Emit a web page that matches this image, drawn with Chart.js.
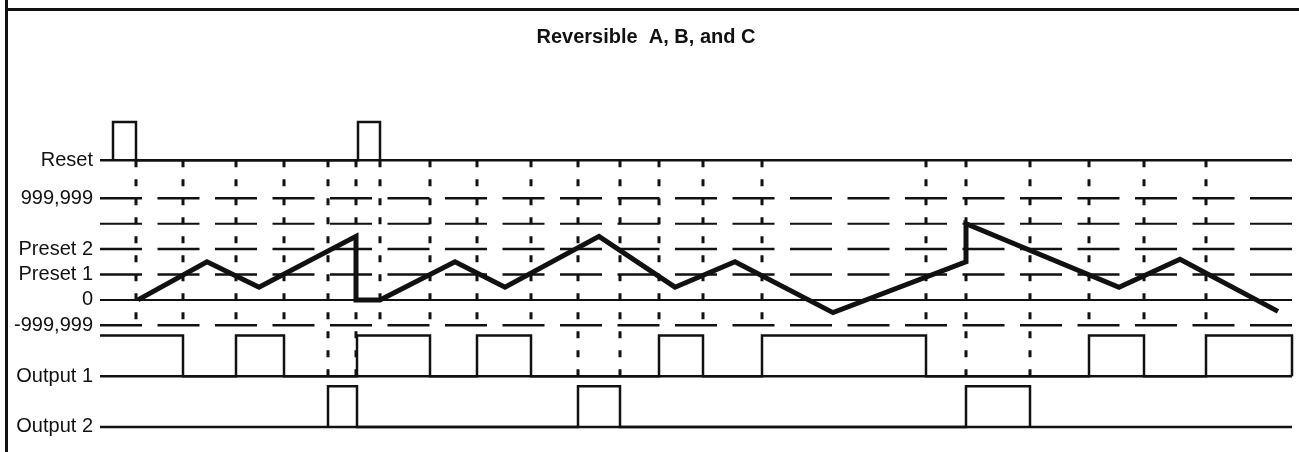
<!DOCTYPE html>
<html>
<head>
<meta charset="utf-8">
<script src="https://cdn.jsdelivr.net/npm/chart.js@4.4.1/dist/chart.umd.min.js"></script>
<style>
  body { margin: 0; background: #fff; }
  .wrap { position: relative; width: 1299px; height: 452px; }
  .top-rule { position: absolute; left: 5px; right: 0; top: 8px; height: 3px; background: #111; }
  .left-rule { position: absolute; left: 5px; top: 0; bottom: 0; width: 3px; background: #111; }
  canvas { position: absolute; left: 0; top: 0; }
</style>
</head>
<body>
<div class="wrap">
  <div class="top-rule"></div>
  <div class="left-rule"></div>
  <canvas id="chart" width="1299" height="452"></canvas>
</div>
<script>
// levels on the left side (counter levels + signal lanes)
const levelLabels = ['Reset', '999,999', 'Preset 2', 'Preset 1', '0', '-999,999', 'Output 1', 'Output 2'];
const levelValues = [5.5, 4, 2, 1, 0, -1, -3, -5];
const dashedLevels = [4, 3, 2, 1, -1];

// time span of the diagram
const tStart = 0;
const tEnd = 1192;

// signal lanes: low / high
const resetLane = [5.5, 7];
const out1Lane = [-3, -1.4];
const out2Lane = [-5, -3.4];

// pulses [on, off]
const resetPulses = [[13, 36], [258, 280]];
const out1Pulses = [[0, 83], [136, 184], [257, 330], [377, 431], [559, 603], [662, 826], [989, 1044], [1106, 1192]];
const out2Pulses = [[228, 257], [478, 520], [866, 930]];

// counter value vs time
const countTimes = [38, 107, 159, 256, 256, 280, 355, 405, 499, 575, 635, 733, 866, 866, 1019, 1080, 1178];
const countValues = [0, 1.5, 0.5, 2.5, 0, 0, 1.5, 0.5, 2.5, 0.5, 1.5, -0.5, 1.5, 3, 0.5, 1.6, -0.45];

// dashed event markers
const eventTimes = [36, 83, 136, 184, 228, 256, 280, 330, 377, 431, 478, 520, 559, 603, 662, 826, 866, 930, 989, 1044, 1106];
const longEvents = [228, 256, 478, 520, 866, 930];

const ink = '#111';

function pulseTrace(pulses, lane) {
    const pts = [];
    pulses.forEach(p => {
        if (p[0] > tStart) pts.push({x: p[0], y: lane[0]});
        pts.push({x: p[0], y: lane[1]});
        pts.push({x: p[1], y: lane[1]});
        pts.push({x: p[1], y: lane[0]});
    });
    return pts;
}

function line(data, width, dash) {
    return {
        data: data,
        borderColor: ink,
        borderWidth: width,
        borderDash: dash || [],
        pointRadius: 0,
        fill: false,
        tension: 0,
        clip: false
    };
}

const datasets = [];

// counter on top
const counter = line(countTimes.map((t, i) => ({x: t, y: countValues[i]})), 5);
counter.borderJoinStyle = 'miter';
datasets.push(counter);

// signals
datasets.push(line(pulseTrace(resetPulses, resetLane), 2.5));
datasets.push(line(pulseTrace(out1Pulses, out1Lane), 2.5));
datasets.push(line(pulseTrace(out2Pulses, out2Lane), 2.5));

// baselines
[resetLane[0], 0, out1Lane[0], out2Lane[0]].forEach(v => {
    datasets.push(line([{x: tStart, y: v}, {x: tEnd, y: v}], v === 0 ? 2 : 2.5));
});

// dashed level lines
dashedLevels.forEach(v => {
    datasets.push(line([{x: tStart, y: v}, {x: tEnd, y: v}], v === 3 ? 2 : 2.5, [42, 15.5]));
});

// dashed event lines
eventTimes.forEach(t => {
    const bottom = longEvents.includes(t) ? out2Lane[1] : -1.2;
    datasets.push(line([{x: t, y: resetLane[0]}, {x: t, y: bottom}], 3, [7, 12]));
});

const font = 'Arial, "Liberation Sans", sans-serif';

const ctx = document.getElementById('chart').getContext('2d');
const chart = new Chart(ctx, {
    type: 'line',
    data: { datasets: datasets },
    options: {
        responsive: false,
        animation: false,
        layout: { padding: { left: 0, right: 7, top: 0, bottom: 4.7 } },
        plugins: {
            legend: { display: false },
            tooltip: { enabled: false },
            title: {
                display: true,
                text: 'Reversible  A, B, and C',
                color: ink,
                font: { family: font, size: 20, weight: 'bold' },
                padding: { top: 25, bottom: 47.6 }
            }
        },
        scales: {
            x: { type: 'linear', min: tStart, max: tEnd, display: false },
            y: {
                type: 'linear',
                min: -5.8,
                max: 8,
                grid: { display: false, tickLength: 0 },
                border: { display: false },
                afterBuildTicks: s => { s.ticks = levelValues.map(v => ({value: v})); },
                afterFit: s => { s.width = 100; s.paddingTop = 0; s.paddingBottom = 0; },
                ticks: {
                    autoSkip: false,
                    padding: 7,
                    color: ink,
                    font: { family: font, size: 20 },
                    callback: (v, i) => levelLabels[i]
                }
            }
        }
    }
});
</script>
</body>
</html>
